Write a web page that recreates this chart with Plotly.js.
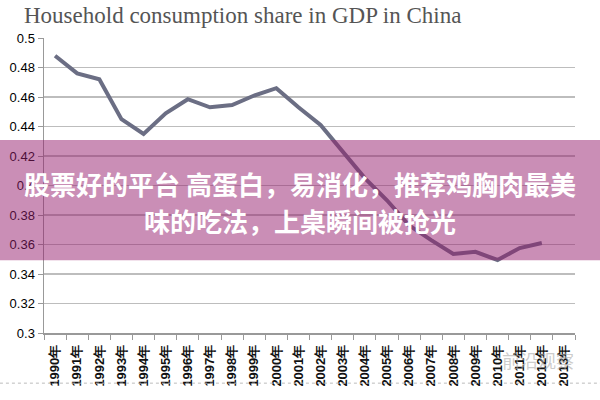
<!DOCTYPE html>
<html>
<head>
<meta charset="utf-8">
<script src="https://cdn.plot.ly/plotly-3.0.1.min.js"></script>
<style>html,body{margin:0;padding:0;background:#fff;}#chart{width:600px;height:400px;}</style>
</head>
<body>
<div id="chart"></div>
<script>
const years = ["1990年","1991年","1992年","1993年","1994年","1995年","1996年","1997年","1998年","1999年","2000年","2001年","2002年","2003年","2004年","2005年","2006年","2007年","2008年","2009年","2010年","2011年","2012年","2013年"];
const consumptionShare = [0.488,0.476,0.472,0.445,0.435,0.449,0.4585,0.453,0.4545,0.461,0.466,0.453,0.441,0.423,0.405,0.390,0.373,0.363,0.3536,0.355,0.3495,0.3576,0.361,null];
const titleText = "Household consumption share in GDP in China";
const bannerLine1 = "股票好的平台 高蛋白，易消化，推荐鸡胸肉最美";
const bannerLine2 = "味的吃法，上桌瞬间被抢光";
const watermark = "前沿观察";

const trace = {
  x: years,
  y: consumptionShare,
  type: "scatter",
  mode: "lines",
  line: {color: "#6b6e84", width: 4},
  connectgaps: false,
  hoverinfo: "skip"
};

const layout = {
  width: 600, height: 400,
  paper_bgcolor: "#ffffff", plot_bgcolor: "#ffffff",
  margin: {l: 44, r: 25, t: 38, b: 67},
  showlegend: false,
  title: {text: titleText, x: 0.04, xanchor: "left", y: 0.982, yanchor: "top",
          font: {family: "Liberation Serif, serif", size: 23, color: "#555555"}},
  xaxis: {
    type: "category", categoryorder: "array", categoryarray: years,
    tickangle: -90, tickson: "boundaries", ticks: "outside", ticklen: 5, tickcolor: "#999999",
    showline: true, linecolor: "#999999", linewidth: 1.5, showgrid: false,
    ticklabelstandoff: 5,
    tickfont: {family: "Liberation Sans, Arial, sans-serif", size: 13, color: "#111111", weight: 700},
    range: [-0.5, 23.5], fixedrange: true
  },
  yaxis: {
    range: [0.3, 0.5], dtick: 0.02, tick0: 0.3,
    showgrid: true, gridcolor: "#bdbdbd", gridwidth: 1.5,
    showline: true, linecolor: "#999999", linewidth: 1.5,
    ticks: "outside", ticklen: 5, tickcolor: "#999999",
    zeroline: false,
    tickfont: {family: "Liberation Sans, Arial, sans-serif", size: 13, color: "#000000"},
    fixedrange: true
  },
  shapes: [
    {type: "rect", xref: "paper", yref: "paper", x0: -0.083, x1: 1.05, y0: 0.247, y1: 0.654,
     fillcolor: "rgba(150,30,110,0.5)", line: {width: 0}, layer: "above"},
    {type: "line", xref: "paper", yref: "paper", x0: -0.083, x1: 1.05, y0: -0.17, y1: -0.17,
     line: {color: "#bbbbbb", width: 1, dash: "dot"}, layer: "above"}
  ],
  annotations: [
    {text: bannerLine1, xref: "paper", yref: "paper", x: 0.482, y: 0.508, showarrow: false,
     xanchor: "center", yanchor: "middle",
     font: {family: "Noto Sans CJK SC, sans-serif", size: 26, color: "#ffffff", weight: 700}},
    {text: bannerLine2, xref: "paper", yref: "paper", x: 0.482, y: 0.383, showarrow: false,
     xanchor: "center", yanchor: "middle",
     font: {family: "Noto Sans CJK SC, sans-serif", size: 26, color: "#ffffff", weight: 700}},
    {text: watermark, xref: "paper", yref: "paper", x: 0.93, y: -0.04, showarrow: false,
     xanchor: "center", yanchor: "top",
     font: {family: "Noto Sans CJK SC, sans-serif", size: 18, color: "rgba(170,170,170,0.6)"}}
  ]
};

Plotly.newPlot("chart", [trace], layout, {displayModeBar: false, staticPlot: true});
</script>
</body>
</html>
